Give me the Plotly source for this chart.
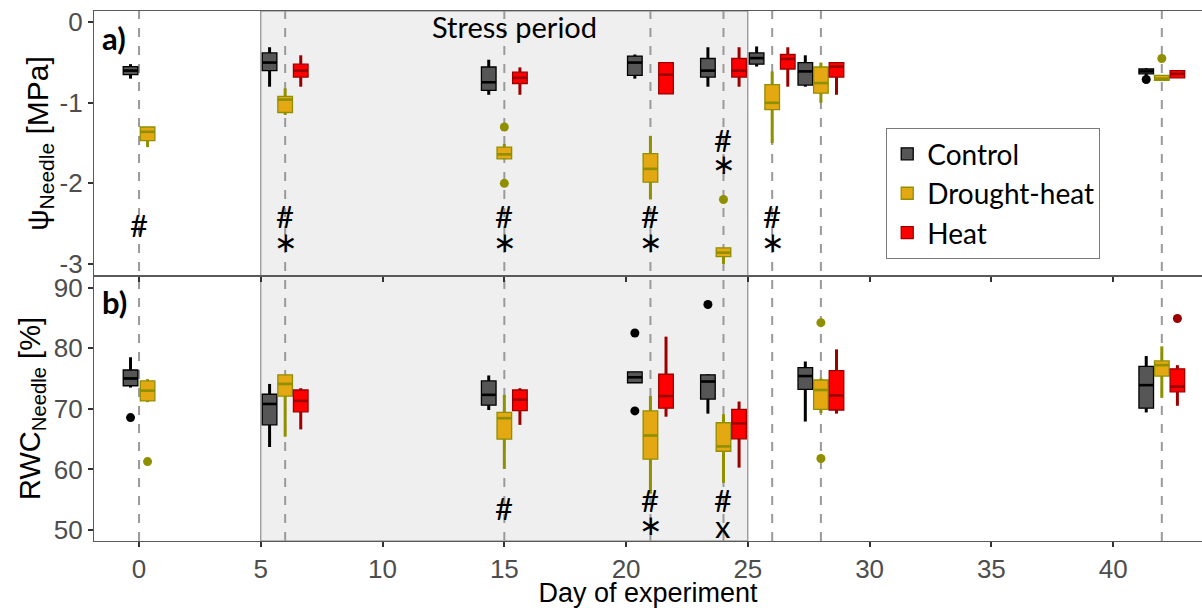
import plotly.graph_objects as go
from plotly.subplots import make_subplots

GROUPS = ["Control", "Drought-heat", "Heat"]
FILL = {"Control": "#565656", "Drought-heat": "#E3A812", "Heat": "#FF0000"}
LINE = {"Control": "#000000", "Drought-heat": "#8F8F00", "Heat": "#9A0000"}

# ---------------- Panel a: needle water potential [MPa] ----------------
psi_control_days = [0, 6, 15, 21, 24, 26, 28, 42]
psi_control_q1 = [-0.65, -0.60, -0.845, -0.66, -0.68, -0.52, -0.78, -0.64]
psi_control_med = [-0.60, -0.50, -0.745, -0.50, -0.60, -0.445, -0.61, -0.61]
psi_control_q3 = [-0.55, -0.38, -0.555, -0.42, -0.45, -0.38, -0.50, -0.58]
psi_control_lo = [-0.70, -0.80, -0.90, -0.70, -0.80, -0.55, -0.80, -0.67]
psi_control_hi = [-0.52, -0.31, -0.465, -0.40, -0.31, -0.30, -0.41, -0.57]
psi_control_out_days = [42]
psi_control_out_vals = [-0.71]

psi_drought_days = [0, 6, 15, 21, 24, 26, 28, 42]
psi_drought_q1 = [-1.47, -1.12, -1.695, -1.985, -2.91, -1.085, -0.88, -0.72]
psi_drought_med = [-1.36, -0.96, -1.64, -1.82, -2.86, -1.00, -0.755, -0.70]
psi_drought_q3 = [-1.30, -0.92, -1.55, -1.63, -2.80, -0.775, -0.555, -0.66]
psi_drought_lo = [-1.55, -1.15, -1.70, -2.20, -3.00, -1.50, -1.00, -0.72]
psi_drought_hi = [-1.30, -0.82, -1.51, -1.41, -2.80, -0.61, -0.50, -0.66]
psi_drought_out_days = [15, 15, 24, 42]
psi_drought_out_vals = [-1.30, -2.00, -2.20, -0.45]

psi_heat_days = [6, 15, 21, 24, 26, 28, 42]
psi_heat_q1 = [-0.68, -0.76, -0.89, -0.68, -0.58, -0.68, -0.69]
psi_heat_med = [-0.60, -0.69, -0.65, -0.60, -0.455, -0.55, -0.64]
psi_heat_q3 = [-0.52, -0.62, -0.50, -0.45, -0.40, -0.50, -0.60]
psi_heat_lo = [-0.80, -0.90, -0.89, -0.80, -0.80, -0.90, -0.69]
psi_heat_hi = [-0.41, -0.56, -0.50, -0.31, -0.31, -0.50, -0.60]
psi_heat_out_days = []
psi_heat_out_vals = []

# ---------------- Panel b: needle relative water content [%] ----------------
rwc_control_days = [0, 6, 15, 21, 24, 28, 42]
rwc_control_q1 = [73.8, 67.35, 70.6, 74.3, 71.6, 73.2, 70.1]
rwc_control_med = [75.0, 70.8, 72.3, 75.2, 74.5, 75.4, 73.9]
rwc_control_q3 = [76.4, 72.4, 74.6, 76.1, 75.6, 76.8, 77.0]
rwc_control_lo = [73.5, 63.7, 69.8, 74.3, 69.2, 67.9, 69.4]
rwc_control_hi = [78.5, 74.1, 75.5, 76.1, 75.7, 77.8, 78.7]
rwc_control_out_days = [0, 21, 21, 24]
rwc_control_out_vals = [68.55, 82.5, 69.65, 87.2]

rwc_drought_days = [0, 6, 15, 21, 24, 28, 42]
rwc_drought_q1 = [71.3, 72.1, 65.0, 61.7, 63.0, 69.9, 75.4]
rwc_drought_med = [73.0, 74.1, 68.45, 65.6, 63.8, 73.1, 77.2]
rwc_drought_q3 = [74.6, 75.6, 69.4, 69.65, 67.7, 74.75, 77.9]
rwc_drought_lo = [71.1, 65.4, 60.1, 56.0, 57.8, 69.3, 71.8]
rwc_drought_hi = [74.9, 75.6, 72.3, 72.1, 69.1, 75.0, 80.3]
rwc_drought_out_days = [0, 28, 28]
rwc_drought_out_vals = [61.3, 84.2, 61.8]

rwc_heat_days = [6, 15, 21, 24, 28, 42]
rwc_heat_q1 = [69.5, 69.7, 70.1, 65.05, 69.8, 72.8]
rwc_heat_med = [71.3, 71.5, 72.1, 67.6, 72.2, 73.65]
rwc_heat_q3 = [73.1, 73.1, 75.7, 69.9, 76.3, 76.6]
rwc_heat_lo = [66.6, 67.35, 68.7, 60.3, 69.2, 70.5]
rwc_heat_hi = [73.4, 73.4, 81.9, 71.2, 79.8, 77.2]
rwc_heat_out_days = [42]
rwc_heat_out_vals = [84.9]

# measurement days (dashed lines) and stress period
measure_days = [0, 6, 15, 21, 24, 26, 28, 42]
stress_start, stress_end = 5, 25

# significance labels (day, label, y)
sig_a_days = [0, 6, 6, 15, 15, 21, 21, 24, 24, 26, 26]
sig_a_text = ["#", "#", "*", "#", "*", "#", "*", "#", "*", "#", "*"]
sig_a_y = [-2.52, -2.41, -2.74, -2.41, -2.74, -2.41, -2.74, -1.46, -1.77, -2.41, -2.74]
sig_b_days = [15, 21, 21, 24, 24]
sig_b_text = ["#", "#", "*", "#", "x"]
sig_b_y = [53.7, 55.0, 50.8, 55.0, 50.6]

psi_ticks = [0, -1, -2, -3]
psi_ticklabels = ["0", "-1", "-2", "-3"]
rwc_ticks = [50, 60, 70, 80, 90]
x_ticks = [0, 5, 10, 15, 20, 25, 30, 35, 40]

panels = {
    1: {
        "Control": (psi_control_days, psi_control_q1, psi_control_med, psi_control_q3, psi_control_lo, psi_control_hi, psi_control_out_days, psi_control_out_vals),
        "Drought-heat": (psi_drought_days, psi_drought_q1, psi_drought_med, psi_drought_q3, psi_drought_lo, psi_drought_hi, psi_drought_out_days, psi_drought_out_vals),
        "Heat": (psi_heat_days, psi_heat_q1, psi_heat_med, psi_heat_q3, psi_heat_lo, psi_heat_hi, psi_heat_out_days, psi_heat_out_vals),
    },
    2: {
        "Control": (rwc_control_days, rwc_control_q1, rwc_control_med, rwc_control_q3, rwc_control_lo, rwc_control_hi, rwc_control_out_days, rwc_control_out_vals),
        "Drought-heat": (rwc_drought_days, rwc_drought_q1, rwc_drought_med, rwc_drought_q3, rwc_drought_lo, rwc_drought_hi, rwc_drought_out_days, rwc_drought_out_vals),
        "Heat": (rwc_heat_days, rwc_heat_q1, rwc_heat_med, rwc_heat_q3, rwc_heat_lo, rwc_heat_hi, rwc_heat_out_days, rwc_heat_out_vals),
    },
}

BOX_W = 0.6
TEXT_FONT = "Lato"
AXIS_FONT = "Liberation Sans"


def dodge(day, group, pdata):
    present = [g for g in GROUPS if day in pdata[g][0]]
    n = len(present)
    i = present.index(group)
    step = 0.64 if n == 3 else 0.70
    return day + (i - (n - 1) / 2) * step


fig = make_subplots(rows=2, cols=1, shared_xaxes=True, vertical_spacing=0)

for row, pdata in panels.items():
    # whiskers
    for g in GROUPS:
        days, q1, med, q3, lo, hi, od, ov = pdata[g]
        xs, ys = [], []
        for d, a, b, c, e in zip(days, q1, q3, lo, hi):
            p = dodge(d, g, pdata)
            xs += [p, p, None, p, p, None]
            ys += [c, a, None, b, e, None]
        fig.add_trace(go.Scatter(x=xs, y=ys, mode="lines", line=dict(color=LINE[g], width=3),
                                 showlegend=False, hoverinfo="skip"), row=row, col=1)
    # boxes
    for g in GROUPS:
        days, q1, med, q3, lo, hi, od, ov = pdata[g]
        pos = [dodge(d, g, pdata) for d in days]
        fig.add_trace(go.Box(x=pos, q1=q1, median=med, q3=q3, lowerfence=q1, upperfence=q3,
                             width=BOX_W, fillcolor=FILL[g], line=dict(color=LINE[g], width=1.3),
                             whiskerwidth=0, boxpoints=False, name=g, legendgroup=g,
                             showlegend=(row == 1)), row=row, col=1)
    # medians (thicker) and outliers
    for g in GROUPS:
        days, q1, med, q3, lo, hi, od, ov = pdata[g]
        xs, ys = [], []
        for d, m in zip(days, med):
            p = dodge(d, g, pdata)
            xs += [p - BOX_W / 2, p + BOX_W / 2, None]
            ys += [m, m, None]
        fig.add_trace(go.Scatter(x=xs, y=ys, mode="lines", line=dict(color=LINE[g], width=2.6),
                                 showlegend=False, hoverinfo="skip"), row=row, col=1)
        if od:
            fig.add_trace(go.Scatter(x=[dodge(d, g, pdata) for d in od], y=ov, mode="markers",
                                     marker=dict(color=LINE[g], size=9), showlegend=False,
                                     hoverinfo="skip"), row=row, col=1)

# shapes: stress period and dashed lines
shapes = [dict(type="rect", xref="x", yref="paper", x0=stress_start, x1=stress_end, y0=0, y1=1,
               fillcolor="#EFEFEF", line=dict(color="#7A7A7A", width=1), layer="below")]
for d in measure_days:
    shapes.append(dict(type="line", xref="x", yref="paper", x0=d, x1=d, y0=0, y1=1,
                       line=dict(color="#9A9A9A", width=2, dash="dash"), layer="below"))


def sig_label(t):
    # centred asterisk glyph, like the reference
    if t == "*":
        return "∗", dict(family="DejaVu Sans", size=28, color="black")
    return t, dict(family=TEXT_FONT, size=31, color="black")


annotations = []
for d, t, y in zip(sig_a_days, sig_a_text, sig_a_y):
    txt, f = sig_label(t)
    annotations.append(dict(x=d, y=y, xref="x", yref="y", text=txt, showarrow=False, font=f))
for d, t, y in zip(sig_b_days, sig_b_text, sig_b_y):
    txt, f = sig_label(t)
    annotations.append(dict(x=d, y=y, xref="x2", yref="y2", text=txt, showarrow=False, font=f))
annotations.append(dict(x=15.4, y=-0.05, xref="x", yref="y", text="Stress period", showarrow=False,
                        font=dict(family=TEXT_FONT, size=29, color="black")))
annotations.append(dict(x=0.005, y=0.988, xref="paper", yref="paper", text="<b>a)</b>", showarrow=False,
                        xanchor="left", yanchor="top", font=dict(family=TEXT_FONT, size=31, color="black")))
annotations.append(dict(x=0.005, y=0.49, xref="paper", yref="paper", text="<b>b)</b>", showarrow=False,
                        xanchor="left", yanchor="top", font=dict(family=TEXT_FONT, size=31, color="black")))

axis_common = dict(showline=True, linecolor="#5A5A5A", linewidth=1.2, mirror=True, showgrid=False,
                   zeroline=False, ticks="outside", ticklen=5, tickwidth=1.5, tickcolor="#333333",
                   tickfont=dict(family=AXIS_FONT, size=26, color="#4D4D4D"))

fig.update_xaxes(range=[-1.85, 43.65], tickvals=x_ticks, **axis_common)
fig.update_xaxes(showticklabels=False, row=1, col=1)
fig.update_xaxes(title=dict(text="Day of experiment", font=dict(family=AXIS_FONT, size=27, color="black"),
                            standoff=2), row=2, col=1)
fig.update_yaxes(range=[-3.15, 0.14], tickvals=psi_ticks, ticktext=psi_ticklabels,
                 title=dict(text="ψ<sub>Needle</sub> [MPa]", font=dict(family=AXIS_FONT, size=30, color="black"),
                            standoff=2), row=1, col=1, **axis_common)
fig.update_yaxes(range=[48.2, 91.9], tickvals=rwc_ticks,
                 title=dict(text="RWC<sub>Needle</sub> [%]", font=dict(family=AXIS_FONT, size=29, color="black"),
                            standoff=4), row=2, col=1, **axis_common)

fig.update_layout(
    width=1202, height=608,
    margin=dict(l=94, r=0, t=11, b=67),
    paper_bgcolor="white", plot_bgcolor="white",
    boxmode="overlay",
    shapes=shapes, annotations=annotations,
    legend=dict(x=0.715, y=0.779, xanchor="left", yanchor="top", bgcolor="white",
                bordercolor="#7A7A7A", borderwidth=1, font=dict(family=TEXT_FONT, size=28, color="black"),
                tracegroupgap=0, itemwidth=30),
    showlegend=True,
)

fig.write_html("out.html")
